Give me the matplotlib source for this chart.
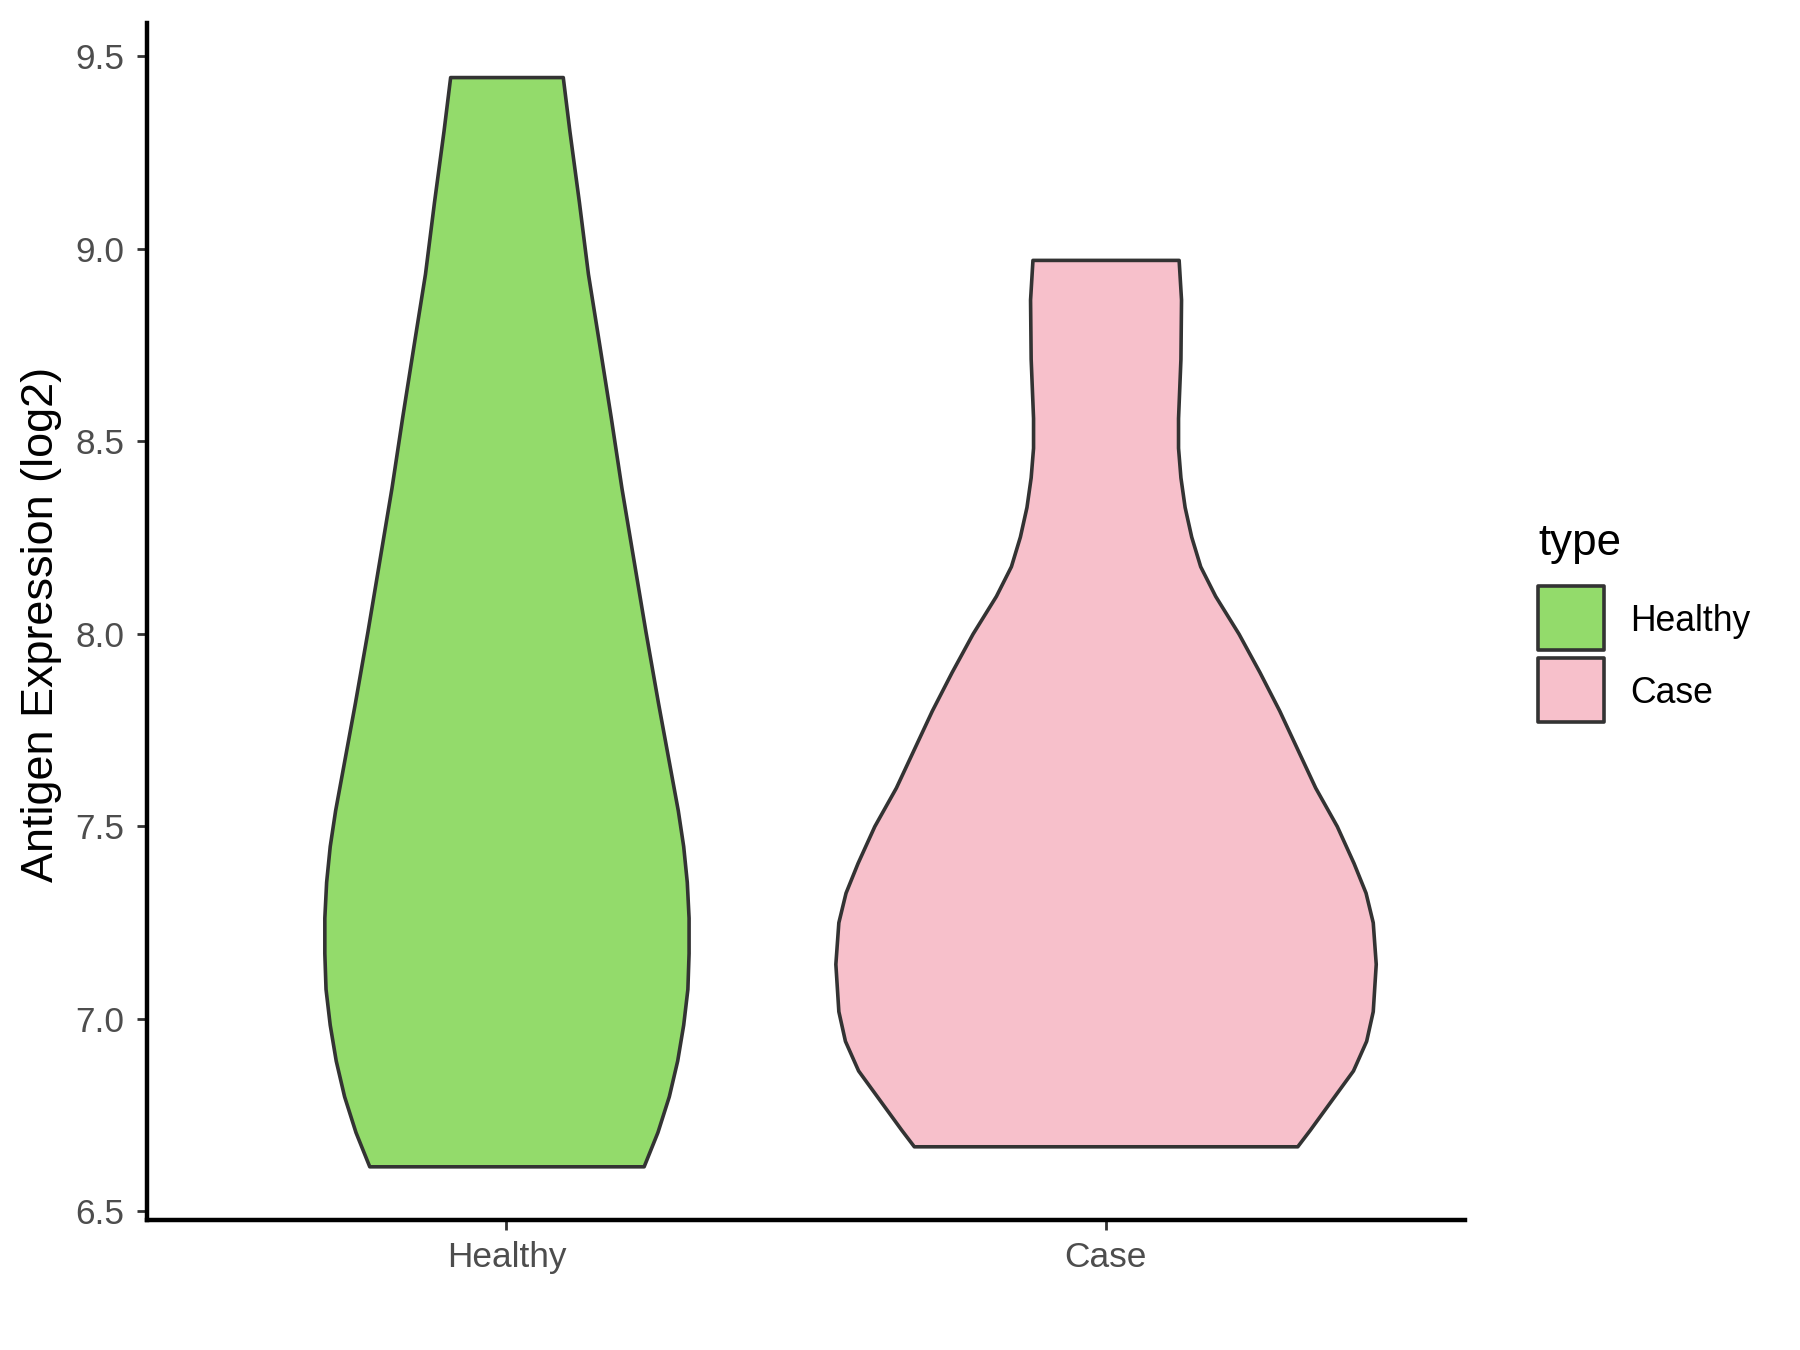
import matplotlib
matplotlib.use("Agg")
import matplotlib.pyplot as plt
from matplotlib.patches import Rectangle

plt.rcParams['font.family'] = ['Liberation Sans', 'DejaVu Sans']

# categories and colours
groups = ['Healthy', 'Case']
fills = ['#93DB6B', '#F7C0CB']

# violin outlines: expression level and half width (x units)
healthy_y = [9.446, 9.307, 9.121, 8.935, 8.750, 8.563, 8.378, 8.192, 8.006, 7.820,
             7.634, 7.541, 7.448, 7.355, 7.262, 7.170, 7.077, 6.984, 6.891, 6.798,
             6.705, 6.616]
healthy_hw = [0.094, 0.105, 0.121, 0.136, 0.155, 0.174, 0.192, 0.212, 0.232, 0.253,
              0.275, 0.286, 0.295, 0.301, 0.304, 0.304, 0.302, 0.295, 0.285, 0.271,
              0.252, 0.229]

case_y = [8.971, 8.868, 8.714, 8.560, 8.483, 8.406, 8.329, 8.252, 8.175, 8.098,
          8.000, 7.900, 7.800, 7.700, 7.600, 7.500, 7.404, 7.327, 7.250, 7.142,
          7.019, 6.942, 6.865, 6.788, 6.711, 6.668]
case_hw = [0.122, 0.126, 0.125, 0.121, 0.121, 0.125, 0.132, 0.143, 0.158, 0.183,
           0.222, 0.257, 0.290, 0.320, 0.350, 0.386, 0.414, 0.434, 0.446, 0.451,
           0.446, 0.435, 0.413, 0.377, 0.341, 0.320]

yticks = [6.5, 7.0, 7.5, 8.0, 8.5, 9.0, 9.5]

W, H = 1800, 1350
fig = plt.figure(figsize=(9, 6.75), dpi=200)
ax = fig.add_axes([147 / W, 1 - 1220 / H, (1465 - 147) / W, (1220 - 23) / H])

profiles = [(healthy_y, healthy_hw), (case_y, case_hw)]
for i, (ys, hws) in enumerate(profiles):
    pos = i + 1
    left = [pos - h for h in hws]
    right = [pos + h for h in hws]
    ax.fill_betweenx(ys, left, right, facecolor=fills[i], edgecolor='#333333',
                     linewidth=1.3, joinstyle='round')

ax.set_xlim(0.4, 2.6)
ax.set_ylim(6.4765, 9.5865)
ax.set_xticks([1, 2])
ax.set_xticklabels(groups)
ax.set_yticks(yticks)
ax.set_yticklabels(['%.1f' % t for t in yticks])

for s in ['top', 'right']:
    ax.spines[s].set_visible(False)
for s in ['left', 'bottom']:
    ax.spines[s].set_color('black')
    ax.spines[s].set_linewidth(1.6)
ax.tick_params(axis='both', direction='out', length=3.6, width=1.0, color='#333333',
               labelcolor='#4D4D4D', labelsize=12.7)
ax.tick_params(axis='y', pad=4.5)
ax.tick_params(axis='x', pad=3.8)

fig.text(42 / W, 1 - 624 / H, 'Antigen Expression (log2)', rotation=90,
         ha='center', va='center', fontsize=16.2, color='black')

# legend drawn by hand
fig.text(1538 / W, 1 - 544 / H, 'type', ha='left', va='center', fontsize=15.8)
key_tops = [585.5, 657.8]
for i, g in enumerate(groups):
    top = key_tops[i]
    fig.add_artist(Rectangle((1538 / W, 1 - (top + 64.3) / H), 66 / W, 64.3 / H,
                             transform=fig.transFigure, facecolor=fills[i],
                             edgecolor='#333333', linewidth=1.3, joinstyle='round'))
    fig.text(1630 / W, 1 - (top + 36) / H, g, ha='left', va='center',
             fontsize=12.8, color='black')

fig.savefig('out.png', dpi=200)
